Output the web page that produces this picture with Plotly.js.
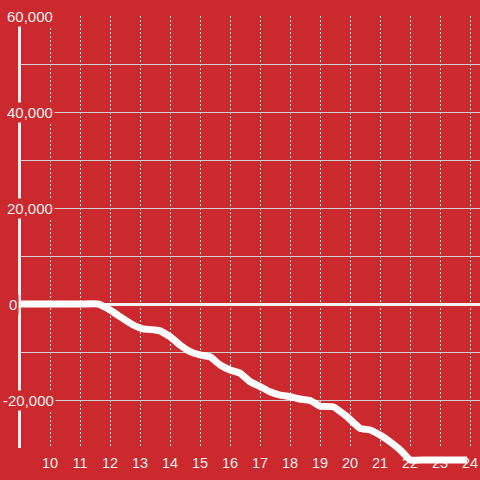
<!DOCTYPE html>
<html>
<head>
<meta charset="utf-8">
<script src="https://cdn.plot.ly/plotly-3.0.1.min.js"></script>
<style>html,body{margin:0;padding:0;background:#cc292e;}#chart{width:480px;height:480px;}</style>
</head>
<body>
<div id="chart"></div>
<script>
// Data (hour of day vs cumulative value)
const hours = [9.03, 11.0, 11.6, 12.0, 12.33, 12.77, 13.1, 13.5, 13.67, 14.0, 14.33, 14.67, 15.0, 15.33, 15.67, 16.0, 16.33, 16.67, 17.0, 17.33, 17.67, 18.0, 18.33, 18.67, 19.0, 19.43, 19.9, 20.33, 20.67, 21.0, 21.33, 21.67, 22.0, 22.5, 23.9];
const values = [0, 0, 0, -1250, -2640, -4375, -5200, -5400, -5600, -6800, -8540, -9930, -10600, -11000, -12700, -13750, -14400, -16200, -17200, -18300, -19000, -19300, -19800, -20100, -21300, -21400, -23500, -25900, -26250, -27300, -28700, -30400, -32500, -32500, -32500];
const xTickVals = [10, 11, 12, 13, 14, 15, 16, 17, 18, 19, 20, 21, 22, 23, 24];
const xTickText = ["10", "11", "12", "13", "14", "15", "16", "17", "18", "19", "20", "21", "22", "23", "24"];
const yGridVals = [-30000, -20000, -10000, 0, 10000, 20000, 30000, 40000, 50000, 60000];
const yLabelVals = [60000, 40000, 20000, 0, -20000];
const yLabelText = ["60,000", "40,000", "20,000", "0", "-20,000"];

const BG = "#cc292e";
const TXT = "#eeeeee";
const xRange = [9.03, 24.33];
const yMin = -30000, yMax = 60000;
// plot area: top 16, main bottom 448, extended bottom 470
const plotTop = 16, mainBottom = 448, extBottom = 470;
const plotH = extBottom - plotTop;
const mainDomainBottom = (extBottom - mainBottom) / plotH;
const perPx = (yMax - yMin) / (mainBottom - plotTop);
const y2Min = yMin - (extBottom - mainBottom) * perPx;

const trace = {
  x: hours, y: values, xaxis: "x2", yaxis: "y2",
  type: "scatter", mode: "lines",
  line: {color: "#ffffff", width: 7, shape: "spline", smoothing: 0.3},
  hoverinfo: "skip"
};

const annotations = yLabelVals.map((v, i) => ({
  xref: "paper", yref: "y", x: 0, y: v,
  text: yLabelText[i], showarrow: false,
  xanchor: "left", yanchor: "middle",
  xshift: yLabelText[i].startsWith("-") ? -20 : (yLabelText[i] === "0" ? -14 : -16),
  bgcolor: BG, borderpad: 1,
  font: {family: "Liberation Sans, Arial, sans-serif", size: 15, color: TXT}
}));

const layout = {
  width: 480, height: 480,
  paper_bgcolor: BG, plot_bgcolor: "rgba(0,0,0,0)",
  margin: {l: 21, r: 0, t: plotTop, b: 480 - extBottom, pad: 0},
  showlegend: false,
  font: {family: "Liberation Sans, Arial, sans-serif", size: 14, color: TXT},
  xaxis: {
    range: xRange, anchor: "y", tickvals: xTickVals, ticktext: xTickText,
    showgrid: true, gridcolor: "#e8e8e8", griddash: "2px,2px", gridwidth: 1,
    showline: false, zeroline: false, ticks: "", ticklen: 0,
    ticklabelstandoff: 4,
    tickfont: {size: 14.5, color: TXT}
  },
  yaxis: {
    range: [yMin, yMax], domain: [mainDomainBottom, 1], anchor: "x",
    tickvals: yGridVals, showticklabels: false, ticks: "",
    showgrid: true, gridcolor: "#cfcfcf", gridwidth: 1,
    zeroline: true, zerolinecolor: "#f2f2f2", zerolinewidth: 3,
    showline: true, linecolor: "#eeeeee", linewidth: 3
  },
  xaxis2: {range: xRange, anchor: "y2", visible: false, showgrid: false, zeroline: false},
  yaxis2: {range: [y2Min, yMax], domain: [0, 1], anchor: "x2", visible: false, showgrid: false, zeroline: false},
  annotations: annotations
};

Plotly.newPlot("chart", [trace], layout, {staticPlot: true, displayModeBar: false});
</script>
</body>
</html>
